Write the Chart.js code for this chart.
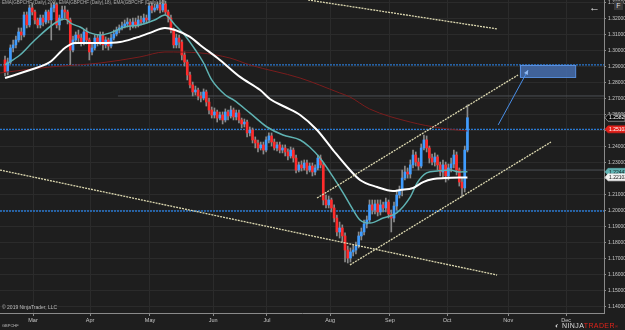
<!DOCTYPE html>
<html><head><meta charset="utf-8">
<script src="https://cdn.jsdelivr.net/npm/chart.js@4/dist/chart.umd.min.js"></script>
<style>
html,body{margin:0;padding:0;background:#1e1e1e;}
#wrap{position:relative;width:625px;height:330px;background:#1e1e1e;overflow:hidden;font-family:"Liberation Sans",Arial,sans-serif;}
canvas{position:absolute;left:0;top:0;}
.t{position:absolute;color:#bdbdbd;white-space:nowrap;line-height:1;}
</style></head><body>
<div id="wrap"><canvas id="c" width="625" height="330"></canvas>
<div class="t" style="left:2px;top:1px;font-size:4.5px;color:#a9a9a9">EMA(GBPCHF (Daily),200), EMA(GBPCHF (Daily),18), EMA(GBPCHF (Daily),50)</div>
<div class="t" style="left:2px;top:305px;font-size:5px;">© 2019 NinjaTrader, LLC</div>
<div class="t" style="left:2px;top:324px;font-size:4px;">GBPCHF</div>
<div class="t" style="left:589px;top:2px;font-size:11px;color:#e6e6e6">←</div>
<div class="t" style="left:614px;top:1px;width:9px;height:9px;background:#3a3a3a;color:#ddd;font-size:7px;text-align:center;line-height:9px">F</div>
<div class="t" style="left:555px;top:322px;font-size:7px;letter-spacing:0.4px"><span style="color:#ccc">◐ </span><span style="color:#ddd">NINJA</span><span style="color:#e2231a">TRADER</span><span style="font-size:4px;color:#e2231a">®</span></div>
</div>
<script>
// ---- candle data (GBPCHF daily) ----
const opens = [1.2944,1.2869,1.2931,1.3019,1.3038,1.3069,1.3119,1.3100,1.3225,1.3163,
1.3269,1.3244,1.3194,1.3163,1.3206,1.3181,1.3244,1.3194,1.3269,1.3288,
1.3163,1.3206,1.3256,1.3244,1.3194,1.3006,1.3069,1.3100,1.3081,1.3056,
1.3119,1.3069,1.2994,1.3019,1.3081,1.3056,1.3100,1.3038,1.3069,1.3031,
1.3081,1.3106,1.3131,1.3144,1.3156,1.3169,1.3181,1.3156,1.3181,1.3163,
1.3194,1.3181,1.3206,1.3194,1.3281,1.3256,1.3269,1.3288,1.3256,1.3294,
1.3244,1.3206,1.3131,1.3038,1.3081,1.3056,1.2975,1.2931,1.2850,1.2788,
1.2744,1.2756,1.2719,1.2706,1.2744,1.2681,1.2631,1.2600,1.2619,1.2581,
1.2600,1.2569,1.2619,1.2594,1.2631,1.2588,1.2613,1.2569,1.2544,1.2556,
1.2488,1.2506,1.2444,1.2425,1.2394,1.2413,1.2381,1.2444,1.2469,1.2431,
1.2394,1.2413,1.2381,1.2394,1.2369,1.2344,1.2381,1.2331,1.2256,1.2288,
1.2269,1.2300,1.2256,1.2281,1.2244,1.2269,1.2331,1.2288,1.2069,1.2038,
1.2069,1.2019,1.1956,1.1869,1.1894,1.1844,1.1756,1.1706,1.1744,1.1756,
1.1781,1.1844,1.1869,1.1919,1.1944,1.2038,1.2006,1.2044,1.1994,1.2038,
1.2019,1.2056,1.1981,1.1956,1.2031,1.2100,1.2131,1.2206,1.2244,1.2231,
1.2288,1.2350,1.2306,1.2281,1.2394,1.2444,1.2394,1.2331,1.2306,1.2338,
1.2288,1.2244,1.2288,1.2219,1.2269,1.2294,1.2350,1.2256,1.2181,1.2144,
1.2381];
const highs = [1.2969,1.2956,1.3038,1.3069,1.3094,1.3144,1.3144,1.3244,1.3244,1.3288,
1.3300,1.3256,1.3206,1.3225,1.3225,1.3256,1.3256,1.3294,1.3306,1.3300,
1.3225,1.3281,1.3281,1.3256,1.3206,1.3094,1.3119,1.3131,1.3106,1.3131,
1.3144,1.3081,1.3044,1.3100,1.3100,1.3119,1.3119,1.3088,1.3081,1.3106,
1.3131,1.3150,1.3163,1.3181,1.3194,1.3206,1.3200,1.3206,1.3206,1.3219,
1.3219,1.3231,1.3225,1.3300,1.3300,1.3294,1.3306,1.3306,1.3319,1.3312,
1.3256,1.3225,1.3144,1.3106,1.3100,1.3069,1.2994,1.2944,1.2869,1.2806,
1.2781,1.2769,1.2744,1.2763,1.2756,1.2706,1.2650,1.2644,1.2631,1.2619,
1.2619,1.2638,1.2631,1.2656,1.2644,1.2631,1.2631,1.2581,1.2575,1.2569,
1.2525,1.2519,1.2463,1.2444,1.2431,1.2431,1.2463,1.2488,1.2488,1.2450,
1.2431,1.2431,1.2413,1.2413,1.2388,1.2400,1.2394,1.2350,1.2306,1.2313,
1.2319,1.2319,1.2300,1.2300,1.2288,1.2350,1.2350,1.2300,1.2100,1.2094,
1.2081,1.2038,1.1975,1.1931,1.1913,1.1863,1.1781,1.1769,1.1788,1.1806,
1.1869,1.1894,1.1944,1.1969,1.2069,1.2069,1.2069,1.2069,1.2069,1.2056,
1.2081,1.2069,1.2006,1.2056,1.2131,1.2156,1.2256,1.2281,1.2269,1.2319,
1.2381,1.2369,1.2331,1.2419,1.2475,1.2469,1.2406,1.2356,1.2363,1.2350,
1.2306,1.2319,1.2306,1.2294,1.2331,1.2381,1.2369,1.2269,1.2206,1.2406,
1.2663];
const lows = [1.2844,1.2850,1.2919,1.2994,1.3019,1.3056,1.3069,1.3088,1.3144,1.3150,
1.3225,1.3169,1.3144,1.3144,1.3156,1.3169,1.3175,1.3069,1.3244,1.3144,
1.3131,1.3194,1.3206,1.3169,1.2913,1.2994,1.3044,1.3056,1.3031,1.3038,
1.3044,1.2944,1.2975,1.3006,1.3031,1.3038,1.3006,1.3019,1.3006,1.3019,
1.3069,1.3094,1.3113,1.3131,1.3144,1.3150,1.3131,1.3144,1.3144,1.3150,
1.3163,1.3169,1.3175,1.3181,1.3238,1.3244,1.3256,1.3238,1.3244,1.3225,
1.3181,1.3113,1.3019,1.3019,1.3019,1.2944,1.2906,1.2819,1.2769,1.2719,
1.2725,1.2694,1.2681,1.2694,1.2656,1.2606,1.2581,1.2581,1.2556,1.2569,
1.2544,1.2556,1.2569,1.2581,1.2569,1.2569,1.2550,1.2519,1.2525,1.2463,
1.2469,1.2425,1.2394,1.2369,1.2381,1.2356,1.2369,1.2425,1.2406,1.2381,
1.2375,1.2363,1.2363,1.2344,1.2319,1.2331,1.2306,1.2238,1.2244,1.2250,
1.2256,1.2231,1.2244,1.2219,1.2225,1.2256,1.2269,1.2038,1.2019,1.2019,
1.1994,1.1931,1.1844,1.1831,1.1806,1.1681,1.1675,1.1681,1.1719,1.1731,
1.1769,1.1819,1.1850,1.1894,1.1931,1.1981,1.1981,1.1969,1.1975,1.1994,
1.1994,1.1956,1.1869,1.1931,1.2006,1.2081,1.2094,1.2194,1.2206,1.2206,
1.2269,1.2281,1.2256,1.2269,1.2381,1.2369,1.2300,1.2288,1.2281,1.2256,
1.2219,1.2206,1.2181,1.2194,1.2244,1.2269,1.2225,1.2156,1.2088,1.2119,
1.2369];
const closes = [1.2869,1.2931,1.3019,1.3038,1.3069,1.3119,1.3100,1.3225,1.3163,1.3269,
1.3244,1.3194,1.3163,1.3206,1.3181,1.3244,1.3194,1.3269,1.3288,1.3163,
1.3206,1.3256,1.3244,1.3194,1.3006,1.3069,1.3100,1.3081,1.3056,1.3119,
1.3069,1.2994,1.3019,1.3081,1.3056,1.3100,1.3038,1.3069,1.3031,1.3081,
1.3106,1.3131,1.3144,1.3156,1.3169,1.3181,1.3156,1.3181,1.3163,1.3194,
1.3181,1.3206,1.3194,1.3281,1.3256,1.3269,1.3288,1.3256,1.3294,1.3244,
1.3206,1.3131,1.3038,1.3081,1.3056,1.2975,1.2931,1.2850,1.2788,1.2744,
1.2756,1.2719,1.2706,1.2744,1.2681,1.2631,1.2600,1.2619,1.2581,1.2600,
1.2569,1.2619,1.2594,1.2631,1.2588,1.2613,1.2569,1.2544,1.2556,1.2488,
1.2506,1.2444,1.2425,1.2394,1.2413,1.2381,1.2444,1.2469,1.2431,1.2394,
1.2413,1.2381,1.2394,1.2369,1.2344,1.2381,1.2331,1.2256,1.2288,1.2269,
1.2300,1.2256,1.2281,1.2244,1.2269,1.2331,1.2288,1.2069,1.2038,1.2069,
1.2019,1.1956,1.1869,1.1894,1.1844,1.1756,1.1706,1.1744,1.1756,1.1781,
1.1844,1.1869,1.1919,1.1944,1.2038,1.2006,1.2044,1.1994,1.2038,1.2019,
1.2056,1.1981,1.1956,1.2031,1.2100,1.2131,1.2206,1.2244,1.2231,1.2288,
1.2350,1.2306,1.2281,1.2394,1.2444,1.2394,1.2331,1.2306,1.2338,1.2288,
1.2244,1.2288,1.2219,1.2269,1.2294,1.2350,1.2256,1.2181,1.2144,1.2381,
1.2583];

// ---- indicator lines (bar index, price) ----
const ema18Idx = [0,5.5,11,18.4,22,24.6,27.6,31.3,35,38.6,44,49.6,55,58.8,62.5,66,70,73,76,81,84,90,96.3,102.2,108.5,112,115.8,120.6,124.3,128,130.5,134.2,139,144,149,151.5,155,159,163.6,167,170];
const ema18Val = [1.2913,1.2975,1.3069,1.3175,1.3200,1.3169,1.3150,1.3113,1.3100,1.3113,1.3150,1.3163,1.3194,1.3225,1.3163,1.3100,1.3006,1.2925,1.2819,1.2725,1.2694,1.2613,1.2525,1.2475,1.2444,1.2400,1.2331,1.2213,1.2113,1.2006,1.1944,1.1925,1.1956,1.1988,1.2088,1.2175,1.2238,1.2250,1.2256,1.2244,1.2245];
const ema50Idx = [0,9.2,16.5,22,25.7,35,42.3,47.8,53.3,58.8,62.5,68,71.7,79,86.4,93.8,97.4,103,108.5,114.7,120.6,126.8,130.5,136.8,142.6,145.2,150,153.7,157.4,161.8,170];
const ema50Val = [1.2831,1.2881,1.2931,1.3019,1.3050,1.3050,1.3056,1.3081,1.3113,1.3144,1.3131,1.3088,1.3038,1.2944,1.2838,1.2756,1.2700,1.2650,1.2600,1.2506,1.2381,1.2256,1.2194,1.2150,1.2125,1.2131,1.2144,1.2181,1.2200,1.2206,1.2210];
const ema200Idx = [-1.8,16.5,35,49.6,58.8,71.7,82.7,90,108.5,123,126.8,134,149,160,170];
const ema200Val = [1.2863,1.2900,1.2925,1.2963,1.2994,1.2988,1.2956,1.2913,1.2831,1.2738,1.2713,1.2638,1.2556,1.2519,1.2500];

// ---- drawn tools ----
const trendX1 = [111.4,-1.84,114.7,126.8];
const trendY1 = [1.3319,1.2256,1.2081,1.1663];
const trendX2 = [180.9,180.9,188.6,200.7];
const trendY2 = [1.3138,1.1600,1.2850,1.2431];
const blueLevels = [1.2913,1.25103,1.2000];
const grayLevels = [1.2719,1.2256];
const grayStart = [41.5,96.7];
const zoneX = [189.3,209.6];
const zoneY = [1.2913,1.2838];
const arrowX = [181.3,192.3];
const arrowY = [1.2538,1.2881];
const markerValues = [1.25829,1.25103,1.22447,1.22103];

// ---- axis labels ----
const monthLabels = ['Mar','Apr','May','Jun','Jul','Aug','Sep','Oct','Nov','Dec'];
const monthIdx = [10.3,31.3,53.3,76.5,96.3,119.5,141.5,162.5,185,206.3];

const X_MIN = -1.84, X_MAX = 220.2, Y_MIN = 1.13625, Y_MAX = 1.331875;

const idx = closes.map((_, i) => i);
const pts = (xs, ys) => xs.map((x, i) => ({x, y: ys[i]}));

const datasets = [];
datasets.push({type:'bar', label:'wick', data: idx.map(i => ({x:i, y:[lows[i], highs[i]]})),
  backgroundColor:'#8a8a8a', barThickness:1, grouped:false, order:6});
datasets.push({type:'bar', label:'body', data: idx.map(i => ({x:i, y:[opens[i], closes[i]]})),
  backgroundColor: idx.map(i => closes[i] >= opens[i] ? '#3f9cff' : '#ff2b2b'), barThickness:2, grouped:false, order:5});

blueLevels.forEach(v => datasets.push({type:'line', data:[{x:X_MIN,y:v},{x:X_MAX,y:v}], borderColor:'#2a78d0', borderWidth:1.3, borderDash:[2,1], pointRadius:0, order:7}));
grayLevels.forEach((v, k) => datasets.push({type:'line', data:[{x:grayStart[k],y:v},{x:X_MAX,y:v}], borderColor:'#4b4f55', borderWidth:1, pointRadius:0, order:7}));

datasets.push({type:'line', data: pts(ema200Idx, ema200Val), borderColor:'#7a1d1d', borderWidth:1, pointRadius:0, cubicInterpolationMode:'monotone', order:4});
datasets.push({type:'line', data: pts(ema18Idx, ema18Val), borderColor:'#5fb2b2', borderWidth:1.5, pointRadius:0, cubicInterpolationMode:'monotone', order:3});
datasets.push({type:'line', data: pts(ema50Idx, ema50Val), borderColor:'#ffffff', borderWidth:2, pointRadius:0, cubicInterpolationMode:'monotone', order:2});

trendX1.forEach((x1, k) => datasets.push({type:'line', data:[{x:x1,y:trendY1[k]},{x:trendX2[k],y:trendY2[k]}],
  borderColor:'#dcd8b0', borderWidth:1.3, borderDash:[2,1], pointRadius:0, order:1}));

const toolsPlugin = {
  id:'tools',
  afterDatasetsDraw(chart) {
    const {ctx, scales:{x, y}, chartArea} = chart;
    ctx.save();
    ctx.beginPath(); ctx.rect(chartArea.left, chartArea.top, chartArea.width, chartArea.height); ctx.clip();
    // zone rectangle
    const rx0 = x.getPixelForValue(zoneX[0]), rx1 = x.getPixelForValue(zoneX[1]);
    const ry0 = y.getPixelForValue(zoneY[0]), ry1 = y.getPixelForValue(zoneY[1]);
    ctx.fillStyle = 'rgba(70,110,175,0.85)';
    ctx.fillRect(rx0, ry0, rx1 - rx0, ry1 - ry0);
    ctx.strokeStyle = '#5a93e6'; ctx.lineWidth = 1;
    ctx.strokeRect(rx0 + 0.5, ry0 + 0.5, rx1 - rx0, ry1 - ry0);
    // arrow
    const ax0 = x.getPixelForValue(arrowX[0]), ay0 = y.getPixelForValue(arrowY[0]);
    const ax1 = x.getPixelForValue(arrowX[1]), ay1 = y.getPixelForValue(arrowY[1]);
    ctx.strokeStyle = '#4a8fe8'; ctx.fillStyle = '#8fb8f0'; ctx.lineWidth = 1;
    ctx.beginPath(); ctx.moveTo(ax0, ay0); ctx.lineTo(ax1, ay1); ctx.stroke();
    const ang = Math.atan2(ay1 - ay0, ax1 - ax0);
    ctx.beginPath(); ctx.moveTo(ax1, ay1);
    ctx.lineTo(ax1 - 5*Math.cos(ang - 0.45), ay1 - 5*Math.sin(ang - 0.45));
    ctx.lineTo(ax1 - 5*Math.cos(ang + 0.45), ay1 - 5*Math.sin(ang + 0.45));
    ctx.closePath(); ctx.fill();
    ctx.restore();
  },
  afterDraw(chart) {
    const {ctx, scales:{y}, chartArea} = chart;
    const styles = [['#0d0d0d','#ffffff','#d0d0d0'],['#e3211b','#ffffff','#e3211b'],['#5fb2b2','#102020','#5fb2b2'],['#f2f2f2','#111111','#f2f2f2']];
    ctx.save();
    ctx.font = '5px "Liberation Sans", Arial, sans-serif';
    ctx.textBaseline = 'middle';
    markerValues.forEach((v, k) => {
      const py = y.getPixelForValue(v);
      const x0 = chartArea.right + 1, w = 20, h = 7;
      ctx.fillStyle = styles[k][0];
      ctx.beginPath();
      ctx.moveTo(x0 + 3, py - h/2); ctx.lineTo(x0 + w, py - h/2); ctx.lineTo(x0 + w, py + h/2); ctx.lineTo(x0 + 3, py + h/2);
      ctx.lineTo(x0, py); ctx.closePath(); ctx.fill();
      ctx.strokeStyle = styles[k][2]; ctx.lineWidth = 0.6; ctx.stroke();
      ctx.fillStyle = styles[k][1];
      ctx.fillText(v.toFixed(5), x0 + 4, py + 0.3);
    });
    ctx.restore();
  }
};

new Chart(document.getElementById('c'), {
  type:'bar',
  data:{datasets},
  options:{
    responsive:false, animation:false, devicePixelRatio:1,
    layout:{padding:0},
    plugins:{legend:{display:false}, tooltip:{enabled:false}, title:{display:false}},
    scales:{
      x:{type:'linear', min:X_MIN, max:X_MAX, offset:false,
        afterBuildTicks:(s) => { s.ticks = monthIdx.map(v => ({value:v})); },
        ticks:{autoSkip:false, maxRotation:0, color:'#c8c8c8', font:{size:5.5, family:'"Liberation Sans", Arial'}, padding:1,
          callback:(v) => { const k = monthIdx.indexOf(v); return k >= 0 ? monthLabels[k] : ''; }},
        grid:{color:'#2b2b2b', offset:false, tickLength:3, tickColor:'#8a8a8a'},
        border:{color:'#8a8a8a', width:1},
        afterFit:(s) => { s.height = 17; s.paddingLeft = 0; s.paddingRight = 0; }
      },
      y:{type:'linear', position:'right', min:Y_MIN, max:Y_MAX,
        ticks:{stepSize:0.01, includeBounds:false, color:'#c8c8c8', font:{size:5, family:'"Liberation Sans", Arial'}, padding:2,
          callback:(v) => Number(v).toFixed(5)},
        grid:{color:'#2b2b2b', tickLength:2, tickColor:'#8a8a8a'},
        border:{color:'#8a8a8a', width:1},
        afterFit:(s) => { s.width = 21; s.paddingTop = 0; s.paddingBottom = 0; }
      }
    }
  },
  plugins:[toolsPlugin]
});
</script>
</body></html>
